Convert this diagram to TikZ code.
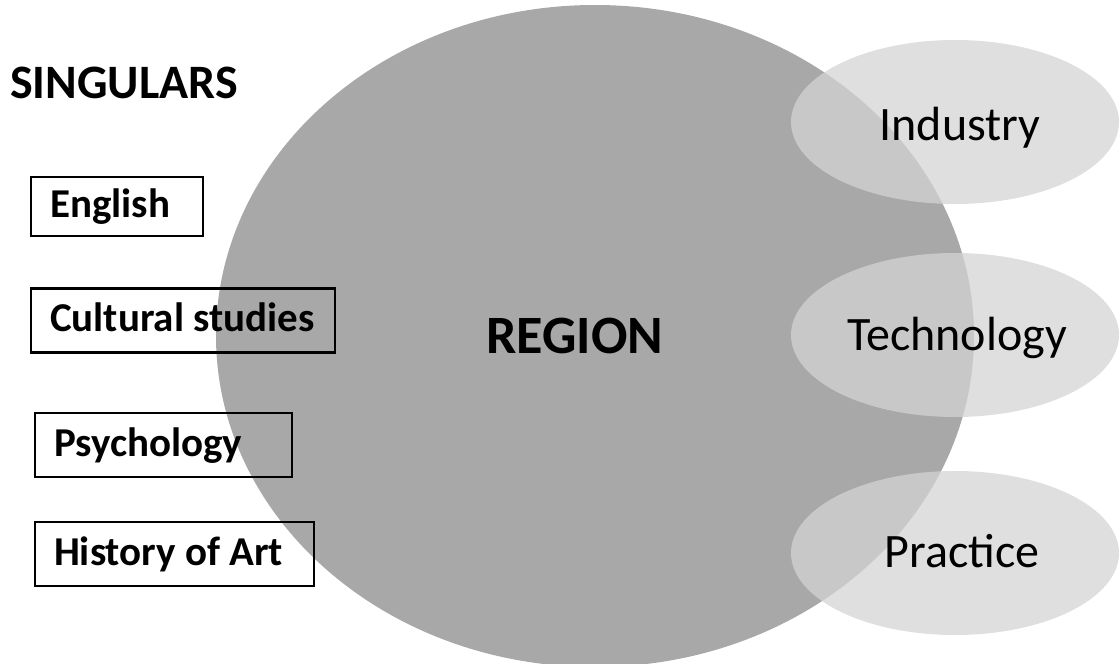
\documentclass[tikz,border=0pt]{standalone}
\usepackage{fontspec}
\setmainfont{Carlito}
\usetikzlibrary{positioning}
\definecolor{regiongray}{RGB}{168,168,168}
\definecolor{fieldgray}{RGB}{212,212,212}
\newcommand{\boxlabel}[2]{\makebox[#1][l]{#2}}

\begin{document}
\begin{tikzpicture}[x=1pt,y=-1pt,
  subject/.style={draw, line width=2.2pt, anchor=west, inner xsep=19pt, inner ysep=0pt,
    minimum height=64pt, text height=30pt, text depth=8pt,
    font=\fontsize{41}{48}\selectfont\bfseries},
  field/.style={anchor=base, inner sep=0pt, font=\fontsize{48}{54}\selectfont},
  bubble/.style={fill=fieldgray, opacity=0.75}]
\useasboundingbox (0,0) rectangle (1120,664);
\clip (0,0) rectangle (1120,664);
% the region and the three fields
\fill [regiongray] (595,336) ellipse [x radius=379, y radius=331];
\fill [bubble] (955,122) ellipse [x radius=164, y radius=82];
\fill [bubble] (955,335) ellipse [x radius=164, y radius=82];
\fill [bubble] (955,553) ellipse [x radius=164, y radius=82];
\node [anchor=base west, inner sep=0pt, font=\fontsize{48}{54}\selectfont\bfseries] (singulars) at (10,98) {SINGULARS};
\node [subject, minimum height=59pt] (english) at (30,206.5) {\boxlabel{134pt}{English}};
\node [subject] (cultural) at (30,320.5) {\boxlabel{266pt}{Cultural studies}};
\node [subject] (psychology) at (34,445) {\boxlabel{219pt}{Psychology}};
\node [subject] (history) at (34,554) {\boxlabel{241pt}{History of Art}};
\node [field, font=\fontsize{54}{60}\selectfont\bfseries] (region) at (575,353) {REGION};
\node [field] (industry) at (960,140) {Industry};
\node [field] (technology) at (957,350) {Technology};
\node [field] (practice) at (962,567) {Practice};
\end{tikzpicture}
\end{document}
